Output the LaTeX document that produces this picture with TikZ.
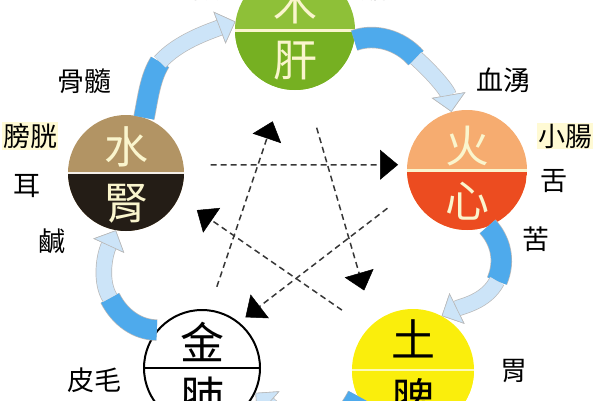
\documentclass[tikz,border=0pt]{standalone}
\usepackage{fontspec}
\setmainfont{Noto Sans CJK TC}
\usetikzlibrary{arrows.meta}
\definecolor{muTop}{RGB}{142,192,56}
\definecolor{muBot}{RGB}{118,176,34}
\definecolor{shuiTop}{RGB}{178,148,100}
\definecolor{shuiBot}{RGB}{36,29,22}
\definecolor{huoTop}{RGB}{246,172,112}
\definecolor{huoBot}{RGB}{236,76,32}
\definecolor{tuFill}{RGB}{250,238,12}
\definecolor{cream}{RGB}{250,245,205}
\definecolor{glowYellow}{RGB}{255,250,212}
\definecolor{keGray}{RGB}{55,55,55}
\definecolor{shengDark}{RGB}{78,170,236}
\definecolor{shengPale}{RGB}{204,228,248}

\begin{document}
\begin{tikzpicture}[x=1pt, y=-1pt,
  wuxing/.style n args={3}{circle, inner sep=0pt, minimum size=#3, fill=#1,
    path picture={\fill[#2] (path picture bounding box.west) rectangle (path picture bounding box.south east);}},
  zang/.style={font=\fontsize{44}{44}\selectfont, inner sep=0pt},
  organ/.style={font=\fontsize{27}{27}\selectfont, inner sep=1pt},
  glow/.style={fill=glowYellow},
  ke/.style={dash pattern=on 6pt off 4pt, line width=1.5pt, draw=keGray,
    -{Triangle[length=18pt, width=30pt, line width=0.5pt, color=black, fill=black]}},
  tail/.style={line width=20pt, draw=shengDark, preaction={draw=gray!55, line width=21.4pt}},
  head/.style={line width=15pt, draw=shengPale, preaction={draw=gray!55, line width=16.4pt},
    -{Triangle[length=17pt, width=34pt, line width=0.6pt, color=gray!55, fill=shengPale]}}
]
\useasboundingbox (0,0) rectangle (600,400);
\clip (0,0) rectangle (600,400);

% the five phases
\node[wuxing={muTop}{muBot}{120pt}] (mu) at (295,30) {};
\node[wuxing={shuiTop}{shuiBot}{116pt}] (shui) at (126,173) {};
\node[wuxing={huoTop}{huoBot}{120pt}] (huo) at (467,170) {};
\node[wuxing={white}{white}{116pt}, draw=black, line width=2pt] (jin) at (202,368) {};
\node[wuxing={tuFill}{tuFill}{122pt}] (tu) at (413,370) {};
\draw[cream, line width=3pt] (mu.west) -- (mu.east);
\draw[white!85!shuiTop, line width=2pt] (shui.west) -- (shui.east);
\draw[cream, line width=3pt] (huo.west) -- (huo.east);
\draw[black, line width=2.4pt] (jin.west) -- (jin.east);
\draw[white!70!tuFill, line width=2pt] (tu.west) -- (tu.east);

\node[zang, text=cream] (muA) at (295,4) {木};
\node[zang, text=cream] (muB) at (295,61) {肝};
\node[zang, text=cream] (shuiA) at (126,147) {水};
\node[zang, text=cream] (shuiB) at (126,204) {腎};
\node[zang, text=cream] (huoA) at (467,146) {火};
\node[zang, text=cream] (huoB) at (467,201) {心};
\node[zang] (jinA) at (202,342) {金};
\node[zang] (jinB) at (202,397) {肺};
\node[zang] (tuA) at (413,339) {土};
\node[zang] (tuB) at (413,399) {脾};

% outer labels
\node[organ] (suan) at (207,-12) {酸};
\node[organ] (dan) at (374,-12) {膽};
\node[organ] (gusui) at (84,81) {骨髓};
\node[organ, glow] (pangguang) at (30,136) {膀胱};
\node[organ] (er) at (27,186) {耳};
\node[organ] (xian) at (52,241) {鹹};
\node[organ] (xueyong) at (503,80) {血湧};
\node[organ, glow] (xiaochang) at (565,136) {小腸};
\node[organ] (she) at (554,181) {舌};
\node[organ] (ku) at (536,239) {苦};
\node[organ] (wei) at (514,371) {胃};
\node[organ] (pimao) at (94,380) {皮毛};

% controlling cycle
\draw[ke, shorten <=27pt, shorten >=9pt] (shui.8) -- (huo.175);
\draw[ke, shorten <=24pt, shorten >=34pt] (jin.83) -- (mu.-101);
\draw[ke, shorten <=40pt, shorten >=34pt] (mu.-80) -- (tu.130);
\draw[ke, shorten <=32pt, shorten >=22pt] (tu.137) -- (shui.-25);
\draw[ke, shorten <=29pt, shorten >=8pt] (huo.200) -- (jin.51);

% generating cycle
\coordinate (sm) at (160,62);
\draw[tail] (shui.72) .. controls (148,98) and (150,78) .. (sm);
\draw[head] (sm) .. controls (178,42) and (208,32) .. (mu.172);
\coordinate (mh) at (416,58);
\draw[tail] (mu.-10) .. controls (375,33) and (400,40) .. (mh);
\draw[head] (mh) .. controls (436,76) and (448,92) .. (huo.105);
\coordinate (ht) at (497,281);
\draw[tail] (huo.-70) .. controls (500,240) and (506,260) .. (ht);
\draw[head] (ht) .. controls (486,302) and (462,306) .. (tu.62);
\coordinate (tj) at (318,428);
\draw[tail] (tu.205) .. controls (350,410) and (340,425) .. (tj);
\draw[head] (tj) .. controls (295,428) and (275,410) .. (jin.-25);
\coordinate (js) at (110,298);
\draw[tail] (jin.140) .. controls (138,330) and (120,318) .. (js);
\draw[head] (js) .. controls (100,282) and (104,256) .. (shui.-100);
\end{tikzpicture}
\end{document}
